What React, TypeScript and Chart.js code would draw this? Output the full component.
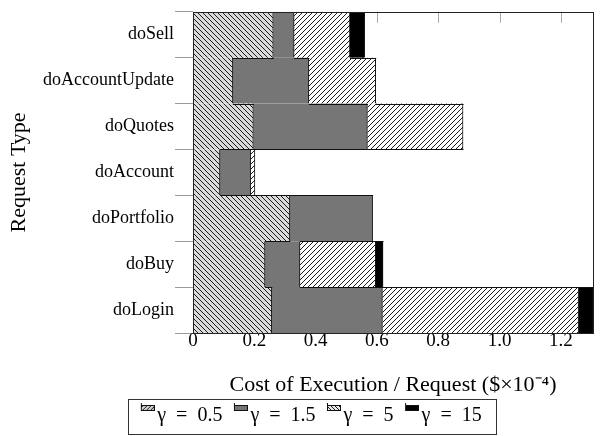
import { useEffect, useRef } from 'react';
import { Chart, registerables } from 'chart.js';

Chart.register(...registerables);

// ---- data ----
const categories = ['doSell', 'doAccountUpdate', 'doQuotes', 'doAccount', 'doPortfolio', 'doBuy', 'doLogin'];
const seriesLabels = ['γ\u2002=\u20020.5', 'γ\u2002=\u20021.5', 'γ\u2002=\u20025', 'γ\u2002=\u200215'];
const gamma05 = [0.262, 0.130, 0.197, 0.088, 0.316, 0.235, 0.257];
const gamma15 = [0.068, 0.248, 0.372, 0.100, 0.270, 0.114, 0.361];
const gamma5 = [0.182, 0.218, 0.312, 0.014, null, 0.247, 0.640];
const gamma150 = [0.048, null, null, null, null, 0.024, 0.047];
const xMax = 1.305;
const xStep = 0.2;
const xTitle = 'Cost of Execution / Request ($\u00d710\u207b\u2074)';
const yTitle = 'Request Type';

const SERIES = [gamma05, gamma15, gamma5, gamma150];
const FONT = '"Liberation Serif", "Times New Roman", serif';
const LEGEND_CENTER = 312.5;
const LEGEND_PAD = 14;

function hatch(bg: string, dir: 'nw' | 'ne', size = 5, line = '#1c1c1c'): CanvasPattern | string {
  const c = document.createElement('canvas');
  c.width = size;
  c.height = size;
  const g = c.getContext('2d');
  if (!g) return bg;
  g.fillStyle = bg;
  g.fillRect(0, 0, size, size);
  g.strokeStyle = line;
  g.lineWidth = 1;
  for (let k = -1; k <= 2; k++) {
    g.beginPath();
    if (dir === 'nw') {
      g.moveTo(-size, -size + k * size);
      g.lineTo(2 * size, 2 * size + k * size);
    } else {
      g.moveTo(-size, k * size + size);
      g.lineTo(2 * size, k * size - 2 * size);
    }
    g.stroke();
  }
  const p = g.createPattern(c, 'repeat');
  return p || bg;
}

function swatch(fill: CanvasPattern | string): HTMLCanvasElement {
  const c = document.createElement('canvas');
  c.width = 19;
  c.height = 30;
  const g = c.getContext('2d');
  if (g) {
    g.fillStyle = fill;
    g.fillRect(5.5, 4.5, 13, 5);
    g.strokeStyle = '#111';
    g.lineWidth = 1;
    g.strokeRect(5.5, 4.5, 13, 5);
    g.beginPath();
    g.moveTo(5.5, 2);
    g.lineTo(5.5, 10);
    g.stroke();
  }
  return c;
}

function rowSegments(r: number) {
  let acc = 0;
  const out: { a: number; b: number; i: number }[] = [];
  SERIES.forEach((s, i) => {
    const v = s[r];
    if (v) {
      out.push({ a: acc, b: acc + v, i });
      acc += v;
    }
  });
  return out;
}

function seriesAt(segs: { a: number; b: number; i: number }[], x: number) {
  for (const s of segs) if (x >= s.a && x < s.b) return s.i;
  return -1;
}

const framePlugin = {
  id: 'pgfFrame',
  afterLayout(chart: any) {
    const lg = chart.legend;
    if (lg) {
      const shift = LEGEND_CENTER - (lg.left + lg.right) / 2;
      lg.left += shift;
      lg.right += shift;
    }
  },
  beforeDatasetsDraw(chart: any) {
    const { ctx, chartArea: a } = chart;
    const xs = chart.scales.x;
    ctx.save();
    ctx.strokeStyle = '#aaaaaa';
    ctx.lineWidth = 1;
    xs.ticks.forEach((t: any) => {
      const px = Math.round(xs.getPixelForValue(t.value)) + 0.5;
      ctx.beginPath();
      ctx.moveTo(px, a.top);
      ctx.lineTo(px, a.top + 11);
      ctx.stroke();
    });
    ctx.restore();
  },
  afterDatasetsDraw(chart: any) {
    const { ctx, chartArea: a } = chart;
    const xs = chart.scales.x;
    const ys = chart.scales.y;
    ctx.save();
    ctx.strokeStyle = '#111';
    ctx.lineWidth = 1;
    // horizontal outlines where neighbouring rows change series
    for (let r = 0; r < categories.length - 1; r++) {
      const top = rowSegments(r);
      const bot = rowSegments(r + 1);
      const pts = Array.from(new Set([0, ...top.map((s) => s.b), ...bot.map((s) => s.b)])).sort((p, q) => p - q);
      const y = Math.round((ys.getPixelForValue(r) + ys.getPixelForValue(r + 1)) / 2) + 0.5;
      for (let k = 0; k < pts.length - 1; k++) {
        const mid = (pts[k] + pts[k + 1]) / 2;
        if (seriesAt(top, mid) !== seriesAt(bot, mid)) {
          ctx.beginPath();
          ctx.moveTo(xs.getPixelForValue(pts[k]), y);
          ctx.lineTo(xs.getPixelForValue(pts[k + 1]) + 0.5, y);
          ctx.stroke();
        }
      }
    }
    ctx.strokeStyle = '#222';
    ctx.strokeRect(Math.round(a.left) + 0.5, Math.round(a.top) + 0.5, Math.round(a.right - a.left), Math.round(a.bottom - a.top));
    ctx.restore();
  },
  afterDraw(chart: any) {
    const lg = chart.legend;
    if (!lg || !lg.legendHitBoxes || !lg.legendHitBoxes.length) return;
    const hb = lg.legendHitBoxes;
    const first = hb[0];
    const last = hb[hb.length - 1];
    const left = Math.round(first.left - 15) + 0.5;
    const right = Math.round(last.left + last.width + 14) + 0.5;
    const top = Math.round(lg.top + LEGEND_PAD - 7) + 0.5;
    const bottom = 434.5;
    const { ctx } = chart;
    ctx.save();
    ctx.strokeStyle = '#333';
    ctx.lineWidth = 1;
    ctx.strokeRect(left, top, right - left, bottom - top);
    ctx.restore();
  },
};

export default function App() {
  const ref = useRef<HTMLCanvasElement>(null);
  useEffect(() => {
    if (!ref.current) return;
    const fills = [
      hatch('#dadada', 'nw'),
      '#767676',
      hatch('#ffffff', 'ne'),
      '#000000',
    ];
    const legendFills = [
      hatch('#d0d0d0', 'ne', 4),
      '#767676',
      hatch('#e6e6e6', 'nw', 4),
      '#000000',
    ];
    const swatches = legendFills.map((f) => swatch(f));
    const chart = new Chart(ref.current, {
      type: 'bar',
      data: {
        labels: categories,
        datasets: SERIES.map((d, i) => ({
          label: seriesLabels[i],
          data: d,
          backgroundColor: fills[i] as any,
          borderColor: '#111',
          borderWidth: { top: 0, bottom: 0, left: 0, right: 1 } as any,
          barPercentage: 1,
          categoryPercentage: 1,
        })),
      },
      options: {
        indexAxis: 'y',
        animation: false,
        responsive: true,
        maintainAspectRatio: false,
        layout: { padding: { top: 3, right: 9, left: 0, bottom: 0 } },
        plugins: {
          tooltip: { enabled: false },
          legend: {
            position: 'bottom',
            labels: {
              usePointStyle: true,
              pointStyleWidth: 4,
              padding: LEGEND_PAD,
              color: '#000',
              font: { family: FONT, size: 20 },
              generateLabels: () =>
                seriesLabels.map((t, i) => ({
                  text: t,
                  pointStyle: swatches[i],
                  fillStyle: 'rgba(0,0,0,0)',
                  strokeStyle: 'rgba(0,0,0,0)',
                  lineWidth: 0,
                  hidden: false,
                  datasetIndex: i,
                  fontColor: '#000',
                })) as any,
            },
          },
        },
        scales: {
          x: {
            type: 'linear',
            stacked: true,
            min: 0,
            max: xMax,
            border: { display: false },
            grid: { display: false, drawTicks: false },
            ticks: {
              stepSize: xStep,
              includeBounds: false,
              padding: -1,
              color: '#000',
              font: { family: FONT, size: 19, lineHeight: 1 },
            },
            title: {
              display: true,
              text: xTitle,
              color: '#000',
              font: { family: FONT, size: 22, lineHeight: 0.65 },
              padding: { top: 0, bottom: 0 },
            },
            afterFit: (s: any) => {
              s.height = 59;
            },
          },
          y: {
            type: 'category',
            stacked: true,
            border: { display: false },
            grid: {
              offset: true,
              drawOnChartArea: false,
              drawTicks: true,
              tickLength: 18,
              color: '#9a9a9a',
            },
            ticks: {
              padding: 1,
              color: '#000',
              font: { family: FONT, size: 18 },
            },
            title: {
              display: true,
              text: yTitle,
              color: '#000',
              font: { family: FONT, size: 22 },
              padding: { top: 6, bottom: 4 },
            },
            afterFit: (s: any) => {
              s.width = 193;
            },
          },
        },
      },
      plugins: [framePlugin],
    });
    return () => chart.destroy();
  }, []);
  return (
    <div style={{ position: 'fixed', left: 0, top: 0, width: 602, height: 436 }}>
      <canvas ref={ref} />
    </div>
  );
}
